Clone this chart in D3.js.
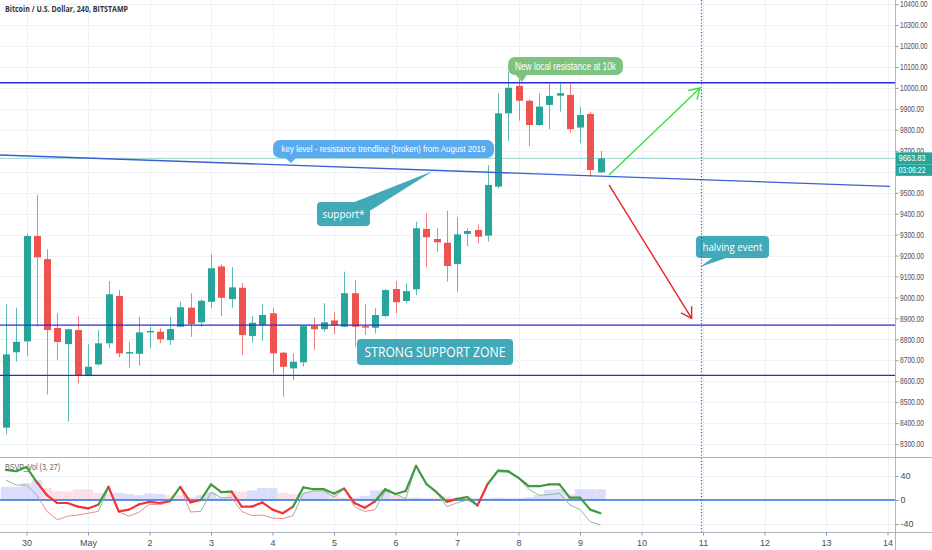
<!DOCTYPE html>
<html><head><meta charset="utf-8">
<script src="https://cdn.jsdelivr.net/npm/d3@7"></script>
<style>
html,body{margin:0;padding:0;background:#fff;}
svg{display:block;font-family:"Liberation Sans",Arial,sans-serif;}
</style></head>
<body>
<svg id="c" width="932" height="550"></svg>
<script>
// ---- data ----
const firstCandle = Date.UTC(2020, 3, 29, 16); // 29 Apr 2020 16:00 UTC, 4h candles
const opens  = [8378,8738,8790,9293,9183,8854,8777,8844,8629,8680,8781,9007,8732,8731,8835,8836,8796,8860,8951,8881,8979,9148,8992,9046,8816,8868,8924,8736,8661,8690,8863,8848,8890,8860,9020,8863,8855,8911,9040,8983,9039,9327,9279,9261,9159,9303,9322,9295,9529,9879,10010,9939,9823,9919,9963,9967,9811,9876,9597];
const highs  = [8967,8951,9303,9489,9230,8924,8850,8911,8776,8844,9078,9035,8788,8908,8860,8852,8908,8979,9020,8990,9207,9158,9144,9070,8911,8967,8951,8740,8733,8868,8903,8972,8932,9123,9083,8967,8948,9040,9078,9067,9361,9402,9330,9414,9383,9330,9349,9632,9975,10078,10046,9945,9975,10022,10022,10022,9911,9887,9700];
const lows   = [8346,8693,8721,8860,8537,8701,8406,8590,8625,8675,8757,8714,8664,8674,8757,8781,8773,8858,8812,8860,8948,8911,8951,8725,8785,8793,8637,8526,8605,8669,8749,8836,8825,8858,8764,8820,8828,8905,8924,8972,9011,9144,9218,9075,9027,9245,9258,9266,9521,9747,9844,9723,9818,9803,9887,9787,9736,9576,9595];
const closes = [8728,8788,9293,9191,8844,8787,8848,8626,8669,8781,9015,8733,8739,8833,8840,8800,8849,8953,8873,8984,9139,8998,9048,8820,8879,8916,8733,8669,8693,8863,8848,8881,8868,9020,8860,8857,8916,9035,8977,9030,9330,9287,9263,9150,9301,9317,9290,9537,9879,10001,9939,9823,9911,9962,9975,9803,9871,9608,9663.83];
// indicator: BSVP_Vol (3, 27)
const bsvpFast = [50,48,55,30,8,-5,-5,-11,-14,-8,22,-19,-16,-7,-3,-5,-2,22,-4,0,26,13,14,-11,-11,-4,-16,-22,-11,21,18,18,11,19,-5,-13,-2,18,10,15,57,27,13,-3,2,5,-9,27,49,48,37,23,23,26,26,4,4,-16,-22];
const bsvpSlow = [33,25,25,8,-19,-33,-27,-25,-22,-19,19,-20,-27,-20,-7,-8,-2,22,-20,-19,13,4,4,-19,-26,-25,-30,-31,-26,11,15,15,5,19,-11,-19,-16,15,10,2,57,27,13,-11,-5,0,-9,25,47,46,36,18,8,9,11,-8,-16,-36,-42];
const segTrend = "gggrrrrrrgrrrrrrgrrgggrrrrrrgggggrrrgggggggrggrgggggggggggrr"; // colour of each segment
const volDelta = [22,22,28,33,-20,-15,-14,-18,-18,-12,-10,12,10,8,11,10,-8,-8,-5,8,13,4,-16,-14,16,20,20,-12,-10,12,14,14,-10,-4,4,7,16,18,-8,-4,4,3,-4,-6,-4,-6,3,3,4,3,3,5,8,17,18,-10,18,18,18];
// levels & drawings
const resistanceLevel = 10025;
const supportTop = 8868;
const supportBottom = 8628;
const lastPrice = 9663.83;
const countdown = "03:06:22";
const trendStart = {t: Date.UTC(2020,3,29,13,40), p: 9680};
const trendEnd   = {t: Date.UTC(2020,4,14,1), p: 9530};
const halving = Date.UTC(2020,4,10,23,13);
const greenArrow = [{t: Date.UTC(2020,4,9,11,20), p: 9584}, {t: Date.UTC(2020,4,10,22,50), p: 10000}];
const redArrow   = [{t: Date.UTC(2020,4,9,11,20), p: 9537}, {t: Date.UTC(2020,4,10,19,35), p: 8900}];
const priceTicks = d3.range(8300, 10401, 100);
const hiddenPriceLabels = [9600]; // covered by the last-price label
const rsiTicks = [40, 0, -40];
const dayTicks = d3.range(0, 15).map(d => Date.UTC(2020,3,30) + d*864e5);
const dayLabels = ["30","May","2","3","4","5","6","7","8","9","10","11","12","13","14"];
const title = "Bitcoin / U.S. Dollar, 240, BITSTAMP";
const indName = "BSVP_Vol (3, 27)";

const candles = opens.map((o,i) => ({t: new Date(firstCandle + i*4*3600e3), o, h: highs[i], l: lows[i], c: closes[i]}));

// ---- layout ----
const W = 932, H = 550, plotR = 895, mainB = 457, indB = 532;
const svg = d3.select("#c");
const x = d3.scaleUtc().domain([new Date(Date.UTC(2020,3,30)), new Date(Date.UTC(2020,4,14))]).range([26.5, 887.5]);
const y = d3.scaleLinear().domain([8238, 10420]).range([mainB, 0]);
const yi = d3.scaleLinear().domain([-53.3, 71.7]).range([indB, mainB]);

function squeeze(sel, k){ // condensed look
  sel.each(function(){ const L=this.getComputedTextLength(); if(L>0) d3.select(this).attr("textLength",L*k).attr("lengthAdjust","spacingAndGlyphs"); });
}
function fitTo(sel, w){
  sel.attr("textLength",w).attr("lengthAdjust","spacingAndGlyphs");
}
const narrow = "'Liberation Sans Narrow','Liberation Sans',Arial,sans-serif";

svg.append("defs").append("clipPath").attr("id","mc").append("rect").attr("x",0).attr("y",0).attr("width",plotR).attr("height",mainB);
svg.select("defs").append("clipPath").attr("id","ic").append("rect").attr("x",0).attr("y",mainB).attr("width",plotR).attr("height",indB-mainB);

// grid
const grid = svg.append("g");
grid.selectAll(".hg").data(priceTicks).join("line").attr("x1",0).attr("x2",plotR)
  .attr("y1",d=>Math.round(y(d))+0.5).attr("y2",d=>Math.round(y(d))+0.5).attr("stroke","#eef1f8");
grid.selectAll(".ig").data(rsiTicks).join("line").attr("x1",0).attr("x2",plotR)
  .attr("y1",d=>Math.round(yi(d))+0.5).attr("y2",d=>Math.round(yi(d))+0.5).attr("stroke","#eef1f8");
grid.selectAll(".vg").data(dayTicks).join("line").attr("y1",0).attr("y2",indB)
  .attr("x1",d=>Math.round(x(d))+0.5).attr("x2",d=>Math.round(x(d))+0.5).attr("stroke","#eef1f8");

// main plot
const main = svg.append("g").attr("clip-path","url(#mc)");
const bw = 7;
const up = "#26a69a", dn = "#ef5350";
main.selectAll(".wick").data(candles).join("line")
  .attr("x1",d=>Math.round(x(d.t))+0.5).attr("x2",d=>Math.round(x(d.t))+0.5)
  .attr("y1",d=>y(d.h)).attr("y2",d=>y(d.l))
  .attr("stroke",d=>d.c>=d.o?up:dn).attr("stroke-opacity",0.75).attr("stroke-width",1);
main.selectAll(".body").data(candles).join("rect")
  .attr("x",d=>Math.round(x(d.t))+0.5-bw/2).attr("width",bw)
  .attr("y",d=>y(Math.max(d.o,d.c))).attr("height",d=>Math.max(1.5,Math.abs(y(d.o)-y(d.c))))
  .attr("fill",d=>d.c>=d.o?up:dn);

// last price line
main.append("line").attr("x1",0).attr("x2",plotR).attr("y1",y(lastPrice)).attr("y2",y(lastPrice))
  .attr("stroke",up).attr("stroke-opacity",0.45).attr("stroke-width",1);

// horizontal levels
const lvl = "#2b2bd6";
[resistanceLevel, supportTop, supportBottom].forEach(p => {
  main.append("line").attr("x1",0).attr("x2",plotR).attr("y1",y(p)).attr("y2",y(p))
    .attr("stroke",lvl).attr("stroke-width",1.3);
});
// trendline
main.append("line").attr("x1",x(trendStart.t)).attr("y1",y(trendStart.p))
  .attr("x2",x(trendEnd.t)).attr("y2",y(trendEnd.p)).attr("stroke","#3a5fd2").attr("stroke-width",1.3);

// arrows
function arrow(g, p0, p1, col){
  const x0=x(p0.t), y0=y(p0.p), x1=x(p1.t), y1=y(p1.p);
  g.append("line").attr("x1",x0).attr("y1",y0).attr("x2",x1).attr("y2",y1).attr("stroke",col).attr("stroke-width",1.4);
  const a = Math.atan2(y1-y0, x1-x0), L = 12, s = 0.55;
  g.append("path").attr("d",`M${x1-L*Math.cos(a-s)},${y1-L*Math.sin(a-s)}L${x1},${y1}L${x1-L*Math.cos(a+s)},${y1-L*Math.sin(a+s)}`)
    .attr("fill","none").attr("stroke",col).attr("stroke-width",1.4);
}
arrow(main, greenArrow[0], greenArrow[1], "#3ae03a");
arrow(main, redArrow[0], redArrow[1], "#e82424");

// callouts
function callout(g, o){
  const col = o.fill;
  if (o.tail) g.append("path").attr("d", `M${o.tail[0][0]},${o.tail[0][1]}L${o.tail[1][0]},${o.tail[1][1]}L${o.tail[2][0]},${o.tail[2][1]}Z`).attr("fill",col);
  g.append("rect").attr("x",o.x).attr("y",o.y).attr("width",o.w).attr("height",o.h).attr("rx",o.rx).attr("fill",col);
  const t = g.append("text").attr("x",o.x+o.w/2).attr("y",o.y+o.h/2).attr("dy","0.36em").attr("text-anchor","middle")
    .attr("fill","#fff").attr("font-size",o.fs).attr("font-family",o.ff||"'Liberation Sans',Arial,sans-serif").text(o.text);
  fitTo(t, o.tw);
}
const ann = svg.append("g");
callout(ann,{text:"New local resistance at 10k", x:508,y:57,w:115,h:18,rx:7,fill:"#7dc27e",fs:10,tw:101, tail:[[514,73],[528,73],[522,82]]});
callout(ann,{text:"key level - resistance trendline (broken) from August 2019", x:273,y:140,w:221,h:18,rx:7,fill:"#5aaaf0",fs:9.5,tw:204, tail:[[283,156],[298,156],[291,163]]});
callout(ann,{text:"support*", x:317,y:202,w:53,h:24,rx:4,fill:"#42a9b8",fs:11,tw:42,ff:"'Open Sans',sans-serif", tail:[[352,203],[368,212],[433,171]]});
callout(ann,{text:"STRONG SUPPORT ZONE", x:357,y:339,w:156,h:26,rx:4,fill:"#42a9b8",fs:14,tw:141,ff:"'Open Sans',sans-serif"});
callout(ann,{text:"halving event", x:696,y:236,w:73,h:22,rx:4,fill:"#42a9b8",fs:11,tw:60,ff:"'Open Sans',sans-serif", tail:[[715,256],[732,256],[700,267]]});

// halving dotted line
svg.append("line").attr("x1",Math.round(x(halving))+0.5).attr("x2",Math.round(x(halving))+0.5).attr("y1",0).attr("y2",indB)
  .attr("stroke","#1f5cff").attr("stroke-width",1.2).attr("stroke-dasharray","1.2,2");

// indicator panel
const ind = svg.append("g").attr("clip-path","url(#ic)");
ind.selectAll(".vb").data(candles).join("rect")
  .attr("x",d=>x(d.t)-5.1).attr("width",10.2)
  .attr("y",(d,i)=>yi(Math.abs(volDelta[i]))).attr("height",(d,i)=>yi(0)-yi(Math.abs(volDelta[i])))
  .attr("fill",(d,i)=>volDelta[i]>=0?"#c9cbfa":"#f7cfe0").attr("fill-opacity",0.65);
ind.append("line").attr("x1",0).attr("x2",plotR).attr("y1",yi(0)).attr("y2",yi(0)).attr("stroke","#2f6fe0").attr("stroke-width",1.4);
for (let i=0;i<candles.length-1;i++){
  const g = segTrend[i]==="g";
  ind.append("line").attr("x1",x(candles[i].t)).attr("x2",x(candles[i+1].t))
    .attr("y1",yi(bsvpSlow[i])).attr("y2",yi(bsvpSlow[i+1]))
    .attr("stroke",g?"#8fb893":"#f08a8a").attr("stroke-width",1);
}
for (let i=0;i<candles.length-1;i++){
  const g = segTrend[i]==="g";
  ind.append("line").attr("x1",x(candles[i].t)).attr("x2",x(candles[i+1].t))
    .attr("y1",yi(bsvpFast[i])).attr("y2",yi(bsvpFast[i+1]))
    .attr("stroke",g?"#3f9b3f":"#ee3636").attr("stroke-width",2.2).attr("stroke-linecap","round");
}
fitTo(svg.append("text").attr("x",5).attr("y",470).attr("font-size",8.5).attr("fill","#666").text(indName), 55);

// separators & axes
svg.append("line").attr("x1",0).attr("x2",W).attr("y1",mainB+0.5).attr("y2",mainB+0.5).attr("stroke","#b2b5be");
svg.append("line").attr("x1",0).attr("x2",W).attr("y1",indB+0.5).attr("y2",indB+0.5).attr("stroke","#b2b5be");
svg.append("line").attr("x1",plotR+0.5).attr("x2",plotR+0.5).attr("y1",0).attr("y2",H).attr("stroke","#b2b5be");

const ya = svg.append("g").attr("transform",`translate(${plotR+0.5},0)`)
  .call(d3.axisRight(y).tickValues(priceTicks).tickFormat(d=>hiddenPriceLabels.includes(d)?"":d.toFixed(2)).tickSize(3).tickPadding(1.5));
const yia = svg.append("g").attr("transform",`translate(${plotR+0.5},0)`)
  .call(d3.axisRight(yi).tickValues(rsiTicks).tickFormat(d=>d).tickSize(3).tickPadding(2));
const xa = svg.append("g").attr("transform",`translate(0,${indB+0.5})`)
  .call(d3.axisBottom(x).tickValues(dayTicks.map(d=>new Date(d))).tickFormat((d,i)=>dayLabels[i]).tickSize(3).tickPadding(4));
[ya,yia,xa].forEach(a=>{
  a.select(".domain").remove();
  a.selectAll("line").attr("stroke","#9598a1");
  a.selectAll("text").attr("fill","#4a4d57").attr("font-size",9).attr("font-family",narrow);
});
// price labels: condensed, right-anchored so they stay inside the page
ya.selectAll("text").attr("font-size",8.5).each(function(){
  const s = this.textContent; if (!s) return;
  const L = s.length>=8 ? 27.5 : 24;
  d3.select(this).attr("text-anchor","end").attr("x", 4.5 + L).attr("textLength", L).attr("lengthAdjust","spacingAndGlyphs");
});

// last price label
const lp = svg.append("g");
lp.append("rect").attr("x",plotR+1).attr("y",y(lastPrice)-6).attr("width",W-plotR-1).attr("height",12).attr("fill",up);
fitTo(lp.append("text").attr("x",plotR+3.5).attr("y",y(lastPrice)).attr("dy","0.35em").attr("fill","#fff").attr("font-size",8.5).attr("font-family",narrow).text(lastPrice.toFixed(2)), 27);
lp.append("rect").attr("x",plotR+1).attr("y",y(lastPrice)+6).attr("width",W-plotR-1).attr("height",11.5).attr("fill",up);
fitTo(lp.append("text").attr("x",plotR+3.5).attr("y",y(lastPrice)+11.8).attr("dy","0.35em").attr("fill","#fff").attr("font-size",8.5).attr("font-family",narrow).text(countdown), 27);

// title
fitTo(svg.append("text").attr("x",5).attr("y",12).attr("font-size",8).attr("font-weight",700)
  .attr("font-family","'Open Sans',sans-serif").attr("fill","#333").text(title), 123);
</script>
</body></html>
